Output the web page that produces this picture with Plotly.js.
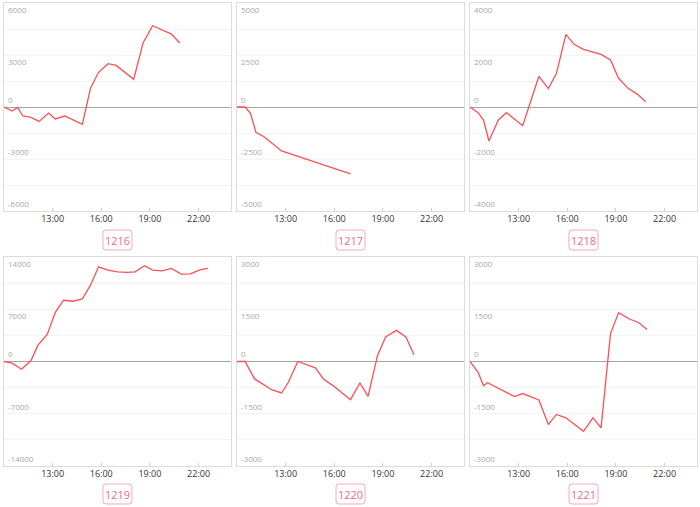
<!DOCTYPE html>
<html>
<head>
<meta charset="utf-8">
<script src="https://cdn.plot.ly/plotly-3.0.1.min.js"></script>
<style>
html,body{margin:0;padding:0;background:#fff;}
#chart{width:700px;height:507px;}
</style>
</head>
<body>
<div id="chart"></div>
<script>
// ---- data ----
const names = ["1216", "1217", "1218", "1219", "1220", "1221"];

const times1216 = ["10:00","10:30","10:50","11:10","11:40","12:10","12:45","13:10","13:45","14:50","15:20","15:50","16:25","16:55","18:00","18:35","19:10","20:20","20:50"];
const values1216 = [0,-230,-20,-520,-600,-830,-350,-690,-520,-1000,1080,2000,2500,2400,1600,3710,4690,4210,3690];

const times1217 = ["10:00","10:30","10:50","11:10","11:40","12:10","12:45","17:00"];
const values1217 = [0,0,-305,-1220,-1430,-1750,-2115,-3220];

const times1218 = ["10:00","10:30","10:50","11:10","11:45","12:15","13:15","14:15","14:50","15:20","15:55","16:25","17:00","18:05","18:40","19:10","19:45","20:20","20:50"];
const values1218 = [0,-218,-500,-1308,-500,-218,-718,1180,705,1295,2795,2410,2218,2026,1808,1103,718,487,205];

const times1219 = ["10:00","10:30","11:05","11:40","12:05","12:40","13:10","13:40","14:15","14:50","15:20","15:50","16:25","17:00","17:35","18:05","18:40","19:10","19:45","20:20","20:55","21:30","22:05","22:35"];
const values1219 = [0,-224,-1031,135,2152,3632,6592,8206,8072,8386,10224,12691,12242,12018,11928,12018,12825,12242,12152,12466,11704,11749,12287,12466];

const times1220 = ["10:00","10:30","11:05","12:10","12:45","13:10","13:45","14:50","15:20","15:55","17:00","17:35","18:05","18:40","19:10","19:50","20:25","20:55"];
const values1220 = [0,0,-500,-817,-904,-596,0,-183,-500,-692,-1096,-615,-1000,173,702,894,702,192];

const times1221 = ["10:00","10:30","10:50","11:05","12:45","13:15","14:15","14:50","15:20","15:55","17:00","17:35","18:05","18:40","19:10","19:50","20:25","20:55"];
const values1221 = [0,-310,-697,-610,-1007,-920,-1104,-1810,-1520,-1617,-2004,-1617,-1907,803,1404,1220,1113,920];

const yTicks1216 = [6000,3000,0,-3000,-6000];
const yTicks1217 = [5000,2500,0,-2500,-5000];
const yTicks1218 = [4000,2000,0,-2000,-4000];
const yTicks1219 = [14000,7000,0,-7000,-14000];
const yTicks1220 = [3000,1500,0,-1500,-3000];
const yTicks1221 = [3000,1500,0,-1500,-3000];

const xTickLabels = ["13:00","16:00","19:00","22:00"];
const xStart = "10:00";
const xEnd = "24:00";

// ---- build ----
const DAY = "2024-01-01 ";
function toDate(t){
  if (t === "24:00") return "2024-01-02 00:00";
  return DAY + t;
}

const allTimes = [times1216,times1217,times1218,times1219,times1220,times1221];
const allValues = [values1216,values1217,values1218,values1219,values1220,values1221];
const allTicks = [yTicks1216,yTicks1217,yTicks1218,yTicks1219,yTicks1220,yTicks1221];

const W = 700, H = 507;
const xDomains = [[4/W, 231/W],[237/W, 464/W],[470/W, 697/W]];
const yDomains = [[(H-211)/H, (H-3)/H],[(H-466)/H, (H-257)/H]];
const labelYpx = [240, 494];

const lineColor = "#ff4f55";
const traces = [];
const layout = {
  width: W, height: H,
  margin: {l:0, r:0, t:0, b:0},
  paper_bgcolor: "#fff",
  plot_bgcolor: "#fff",
  showlegend: false,
  font: {family: "Open Sans, sans-serif"},
  annotations: [],
  shapes: []
};

function roundRectPath(cx, cy, w, h, r){
  // pixel-based, converted to paper coordinates
  const px = v => (v / W).toFixed(5);
  const py = v => (1 - v / H).toFixed(5);
  const x0 = cx - w/2, x1 = cx + w/2, y0 = cy - h/2, y1 = cy + h/2;
  return "M" + px(x0 + r) + "," + py(y0) +
    " L" + px(x1 - r) + "," + py(y0) +
    " Q" + px(x1) + "," + py(y0) + " " + px(x1) + "," + py(y0 + r) +
    " L" + px(x1) + "," + py(y1 - r) +
    " Q" + px(x1) + "," + py(y1) + " " + px(x1 - r) + "," + py(y1) +
    " L" + px(x0 + r) + "," + py(y1) +
    " Q" + px(x0) + "," + py(y1) + " " + px(x0) + "," + py(y1 - r) +
    " L" + px(x0) + "," + py(y0 + r) +
    " Q" + px(x0) + "," + py(y0) + " " + px(x0 + r) + "," + py(y0) + " Z";
}

for (let i = 0; i < 6; i++) {
  const col = i % 3, row = Math.floor(i / 3);
  const ax = i === 0 ? "" : String(i + 1);
  const ticks = allTicks[i];
  const maxV = ticks[0];
  traces.push({
    type: "scatter", mode: "lines",
    x: allTimes[i].map(toDate),
    y: allValues[i],
    xaxis: "x" + ax, yaxis: "y" + ax,
    line: {color: lineColor, width: 1.3},
    hoverinfo: "skip"
  });
  layout["xaxis" + ax] = {
    type: "date",
    domain: xDomains[col],
    anchor: "y" + ax,
    range: [toDate(xStart), toDate(xEnd)],
    tickvals: xTickLabels.map(toDate),
    ticktext: xTickLabels,
    showgrid: false,
    zeroline: false,
    showline: true, mirror: true,
    linecolor: "#dcdcdc", linewidth: 1,
    ticks: "inside", ticklen: 3, tickcolor: "#cfcfcf",
    ticklabelstandoff: -1,
    tickfont: {size: 9, color: "#333"},
    fixedrange: true
  };
  layout["yaxis" + ax] = {
    domain: yDomains[row],
    anchor: "x" + ax,
    range: [-maxV, maxV],
    dtick: maxV / 4,
    tick0: 0,
    showticklabels: false,
    showgrid: true, gridcolor: "#f3f3f3", gridwidth: 1,
    zeroline: true, zerolinecolor: "#a5a5a5", zerolinewidth: 1,
    showline: true, mirror: true,
    linecolor: "#dcdcdc", linewidth: 1,
    ticks: "",
    fixedrange: true
  };
  // y labels inside plot area
  ticks.forEach(v => {
    layout.annotations.push({
      xref: "x" + ax + " domain", yref: "y" + ax,
      x: 0, y: v, xanchor: "left",
      yanchor: v > 0 ? "top" : "bottom",
      xshift: 2,
      yshift: v > 0 ? 1 : 0,
      text: String(v), showarrow: false,
      font: {size: 8, color: "#a8a8a8"}
    });
  });
  // name label box under each panel
  const cxPx = (xDomains[col][0] + xDomains[col][1]) / 2 * W;
  layout.shapes.push({
    type: "path", xref: "paper", yref: "paper",
    path: roundRectPath(cxPx, labelYpx[row], 29, 20, 3),
    line: {color: "#f7a8c0", width: 1},
    fillcolor: "#fff"
  });
  layout.annotations.push({
    xref: "paper", yref: "paper",
    x: cxPx / W,
    y: 1 - labelYpx[row] / H,
    xanchor: "center", yanchor: "middle",
    text: names[i], showarrow: false,
    font: {size: 11, color: "#f0678f"}
  });
}

Plotly.newPlot("chart", traces, layout, {staticPlot: true, displayModeBar: false});
</script>
</body>
</html>
